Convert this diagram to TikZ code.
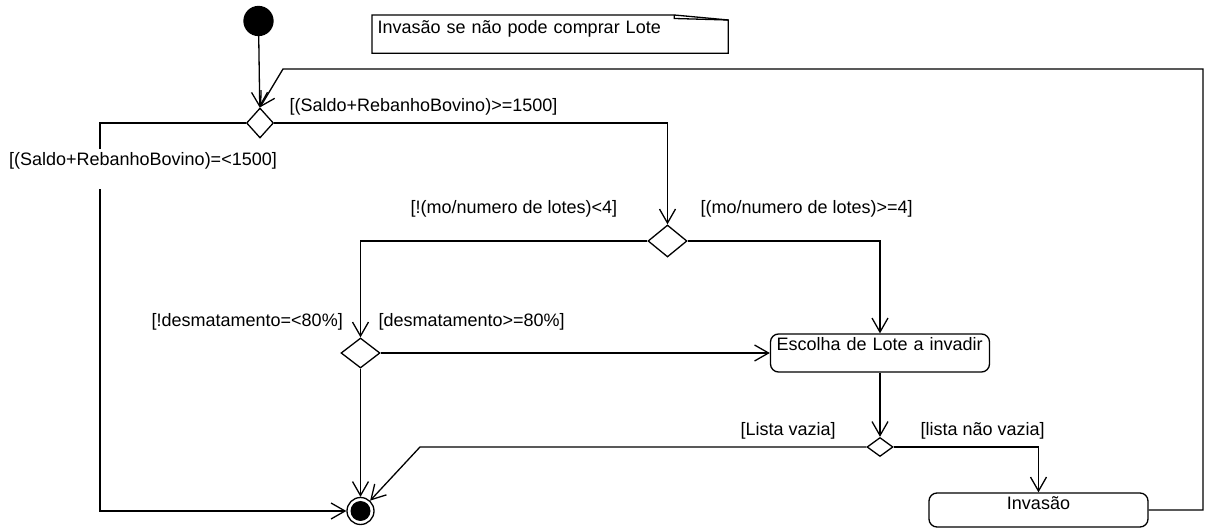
\documentclass[tikz,border=0pt]{standalone}
\usepackage{fontspec}
\setmainfont{Liberation Sans}
\usepackage{tikz}
\usetikzlibrary{shapes.geometric, arrows.meta, positioning}
\tikzset{
  startnode/.style={circle, draw=black, fill=black, minimum size=14.5pt, inner sep=0pt},
  endnode/.style={circle, draw=black, fill=white, minimum size=13.5pt, inner sep=0pt,
    path picture={\fill[black] (path picture bounding box.center) circle (5pt);}},
  decision/.style={diamond, draw=black, fill=white, inner sep=0pt, minimum width=13.5pt, minimum height=15pt},
  action/.style={rectangle, rounded corners=4pt, draw=black, fill=white, inner xsep=3pt, inner ysep=2pt,
    text width=103.5pt, text height=6.5pt},
  note/.style={draw=none, anchor=north west, inner xsep=2.5pt, inner ysep=2.5pt, text width=172.5pt,
    text height=6.5pt, text depth=7pt, align=left, append after command={
      \pgfextra{
        \draw (\tikzlastnode.north west) -- ([xshift=-27pt]\tikzlastnode.north east)
              -- ([yshift=-2.5pt]\tikzlastnode.north east) -- (\tikzlastnode.south east)
              -- (\tikzlastnode.south west) -- cycle; % kotak catatan
        \draw ([xshift=-27pt]\tikzlastnode.north east) -- ++(0,-1.75pt)
              -- ([yshift=-2.5pt]\tikzlastnode.north east); % lipatan
      }
    }
  },
  guard/.style={inner sep=0pt, anchor=base west},
  arrow/.style={-{Straight Barb[length=7pt,width=8pt]}}
}

\begin{document}
\begin{tikzpicture}[x=0.5pt, y=-0.5pt, line width=0.65pt, font=\fontsize{9}{11}\selectfont]

    \useasboundingbox (0,0) rectangle (1207,529);

    \node (note) [note] at (372,15) {Invasão se não pode comprar Lote};
    \node (start) [startnode] at (258.5,21) {};
    \node (checkSaldo) [decision] at (260,123) {};
    \node (checkLotes) [decision, minimum width=19.5pt, minimum height=16pt] at (667.5,241) {};
    \node (checkDesmat) [decision, minimum width=19.5pt] at (360.5,353) {};
    \node (chooseLote) [action, align=left, text depth=8.5pt] at (880,353) {\mbox{Escolha de Lote a invadir}};
    \node (checkLista) [decision, minimum width=13pt, minimum height=9.5pt] at (880,447) {};
    \node (invasion) [action, align=center, text depth=6.5pt] at (1038.5,510) {Invasão};
    \node (end) [endnode] at (360.5,511) {};

    \coordinate (loopTop) at (1203,69);
    \coordinate (loopLeft) at (283,69);
    \coordinate (leftBottom) at (100,511);
    \coordinate (bendLeft) at (420,447);

    \draw [arrow] (start) -- (checkSaldo);
    \draw [arrow] (checkSaldo.east) -| (checkLotes.north);
    \draw [arrow] (checkSaldo.west) -| (leftBottom) -- (end);
    \draw [arrow] (checkLotes.west) -| (checkDesmat.north);
    \draw [arrow] (checkLotes.east) -| (chooseLote.north);
    \draw [arrow] (checkDesmat.east) -- (chooseLote.west);
    \draw [arrow] (checkDesmat) -- (end);
    \draw [arrow] (chooseLote) -- (checkLista);
    \draw [arrow] (checkLista.west) -- (bendLeft) -- (end);
    \draw [arrow] (checkLista.east) -| (invasion.north);
    \draw [arrow] (invasion.east) -| (loopTop) -- (loopLeft) -- (checkSaldo.north);

    \node [guard] at (289,112) {[(Saldo+RebanhoBovino)>=1500]};
    \node [guard, anchor=north, fill=white, text height=8.5pt, text depth=11.5pt] at (143,148) {[(Saldo+RebanhoBovino)=<1500]};
    \node [guard] at (410,214) {[!(mo/numero de lotes)<4]};
    \node [guard] at (700,214) {[(mo/numero de lotes)>=4]};
    \node [guard] at (151,327) {[!desmatamento=<80\%]};
    \node [guard] at (378,327) {[desmatamento>=80\%]};
    \node [guard] at (740,436) {[Lista vazia]};
    \node [guard] at (920,436) {[lista não vazia]};

\end{tikzpicture}
\end{document}
